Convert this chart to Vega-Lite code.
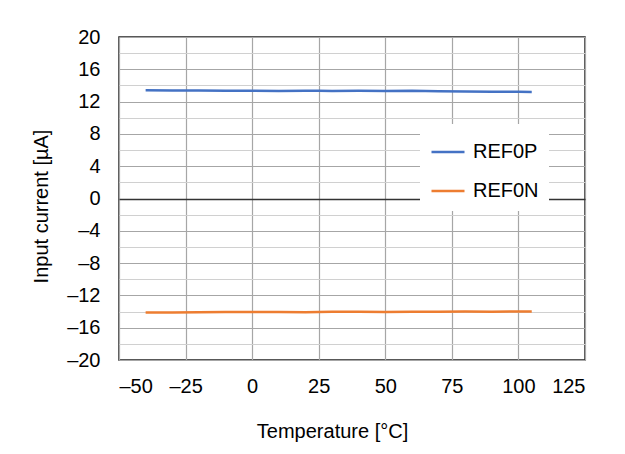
{
  "$schema": "https://vega.github.io/schema/vega-lite/v6.json",
  "autosize": "none",
  "width": 466,
  "height": 323,
  "padding": {"left": 119, "top": 37, "right": 40, "bottom": 94},
  "background": "white",
  "config": {
    "font": "Liberation Sans",
    "view": {"stroke": "#222222", "strokeWidth": 1.5},
    "axis": {"labelFont": "Liberation Sans", "titleFont": "Liberation Sans", "labelFontSize": 20, "titleFontSize": 20, "labelColor": "#000000", "titleColor": "#000000", "titleFontWeight": "normal", "ticks": false, "domain": false}
  },
  "data": {
    "values": [
      {"t": -40, "v": 13.4, "s": "REF0P"},
      {"t": -30, "v": 13.38, "s": "REF0P"},
      {"t": -20, "v": 13.37, "s": "REF0P"},
      {"t": -10, "v": 13.35, "s": "REF0P"},
      {"t": 0, "v": 13.33, "s": "REF0P"},
      {"t": 10, "v": 13.32, "s": "REF0P"},
      {"t": 20, "v": 13.34, "s": "REF0P"},
      {"t": 25, "v": 13.35, "s": "REF0P"},
      {"t": 30, "v": 13.32, "s": "REF0P"},
      {"t": 40, "v": 13.34, "s": "REF0P"},
      {"t": 50, "v": 13.3, "s": "REF0P"},
      {"t": 60, "v": 13.33, "s": "REF0P"},
      {"t": 70, "v": 13.27, "s": "REF0P"},
      {"t": 80, "v": 13.25, "s": "REF0P"},
      {"t": 90, "v": 13.23, "s": "REF0P"},
      {"t": 100, "v": 13.22, "s": "REF0P"},
      {"t": 105, "v": 13.2, "s": "REF0P"},
      {"t": -40, "v": -14.12, "s": "REF0N"},
      {"t": -30, "v": -14.11, "s": "REF0N"},
      {"t": -20, "v": -14.09, "s": "REF0N"},
      {"t": -10, "v": -14.07, "s": "REF0N"},
      {"t": 0, "v": -14.05, "s": "REF0N"},
      {"t": 10, "v": -14.06, "s": "REF0N"},
      {"t": 20, "v": -14.09, "s": "REF0N"},
      {"t": 25, "v": -14.06, "s": "REF0N"},
      {"t": 30, "v": -14.04, "s": "REF0N"},
      {"t": 40, "v": -14.02, "s": "REF0N"},
      {"t": 50, "v": -14.05, "s": "REF0N"},
      {"t": 60, "v": -14.01, "s": "REF0N"},
      {"t": 70, "v": -14.03, "s": "REF0N"},
      {"t": 80, "v": -14.0, "s": "REF0N"},
      {"t": 90, "v": -14.01, "s": "REF0N"},
      {"t": 100, "v": -13.98, "s": "REF0N"},
      {"t": 105, "v": -13.98, "s": "REF0N"}
    ]
  },
  "mark": {"type": "line", "strokeWidth": 2.5, "clip": true},
  "encoding": {
    "x": {
      "field": "t", "type": "quantitative",
      "scale": {"domain": [-50, 125], "nice": false, "zero": false},
      "axis": {
        "values": [-50, -25, 0, 25, 50, 75, 100, 125],
        "labelExpr": "replace(datum.label, '\u2212', '\u2013')",
        "title": "Temperature [°C]",
        "labelPadding": 16,
        "gridColor": "#a6a6a6",
        "gridWidth": 1.2,
        "titleX": 213,
        "titleY": 61,
        "titleAnchor": "middle"
      }
    },
    "y": {
      "field": "v", "type": "quantitative",
      "scale": {"domain": [-20, 20], "nice": false},
      "axis": {
        "values": [-20, -18, -16, -14, -12, -10, -8, -6, -4, -2, 0, 2, 4, 6, 8, 10, 12, 14, 16, 18, 20],
        "labelExpr": "datum.value % 4 === 0 ? replace(datum.label, '\u2212', '\u2013') : ''",
        "title": "Input current [µA]",
        "labelPadding": 19,
        "gridColor": {"condition": [{"test": "datum.value === 0", "value": "#333333"}, {"test": "datum.value % 4 === 0", "value": "#a6a6a6"}], "value": "#d0d0d0"},
        "gridWidth": {"condition": {"test": "datum.value === 0", "value": 1.6}, "value": 1.2},
        "titleX": -68,
        "titleY": 169,
        "titleAnchor": "middle"
      }
    },
    "color": {
      "field": "s", "type": "nominal",
      "scale": {"domain": ["REF0P", "REF0N"], "range": ["#4472c4", "#ed7d31"]},
      "legend": {
        "title": null,
        "orient": "none",
        "legendX": 301,
        "legendY": 87,
        "fillColor": "white",
        "padding": 10,
        "symbolType": "stroke",
        "symbolSize": 1089,
        "symbolStrokeWidth": 2.5,
        "labelFontSize": 20,
        "labelFont": "Liberation Sans",
        "labelColor": "#000000",
        "labelOffset": 7,
        "rowPadding": 11
      }
    }
  }
}
